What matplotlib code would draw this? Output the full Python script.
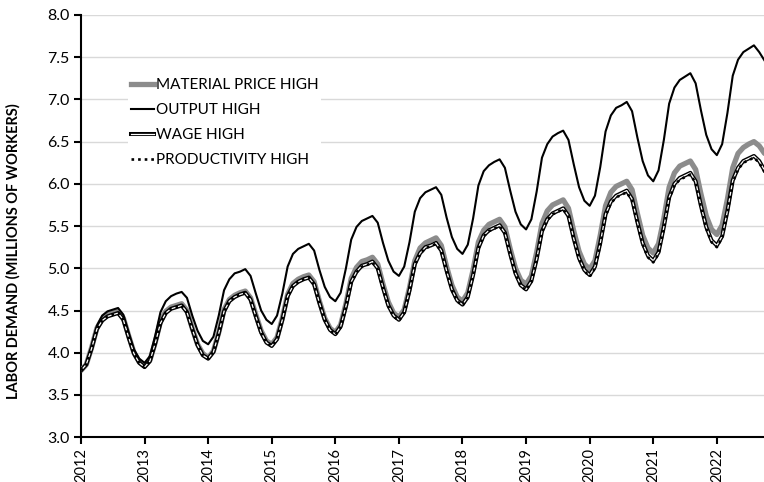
import matplotlib.pyplot as plt
import matplotlib.patheffects as pe
from matplotlib.lines import Line2D
import numpy as np

# monthly labor demand, Jan 2012 - Oct 2022 (millions of workers)
years = ['2012', '2013', '2014', '2015', '2016', '2017',
         '2018', '2019', '2020', '2021', '2022']

material_high = [
    3.79, 3.86, 4.06, 4.29, 4.40, 4.45, 4.47, 4.49, 4.41, 4.20, 4.00, 3.89,
    3.84, 3.91, 4.12, 4.37, 4.49, 4.54, 4.56, 4.58, 4.50, 4.29, 4.10, 3.99,
    3.94, 4.02, 4.24, 4.51, 4.63, 4.68, 4.71, 4.73, 4.65, 4.45, 4.26, 4.14,
    4.10, 4.18, 4.41, 4.69, 4.82, 4.87, 4.90, 4.92, 4.84, 4.61, 4.41, 4.29,
    4.24, 4.33, 4.58, 4.88, 5.01, 5.08, 5.10, 5.13, 5.05, 4.81, 4.60, 4.47,
    4.42, 4.51, 4.77, 5.09, 5.24, 5.30, 5.33, 5.36, 5.27, 5.02, 4.80, 4.66,
    4.61, 4.71, 4.98, 5.31, 5.45, 5.52, 5.55, 5.58, 5.49, 5.23, 5.00, 4.86,
    4.81, 4.91, 5.19, 5.53, 5.68, 5.75, 5.78, 5.81, 5.71, 5.44, 5.20, 5.05,
    4.99, 5.09, 5.39, 5.74, 5.90, 5.97, 6.00, 6.03, 5.93, 5.65, 5.39, 5.24,
    5.18, 5.29, 5.59, 5.96, 6.13, 6.21, 6.24, 6.27, 6.17, 5.88, 5.62, 5.46,
    5.40, 5.51, 5.82, 6.19, 6.36, 6.43, 6.47, 6.50, 6.45, 6.36,
]

output_high = [
    3.79, 3.86, 4.07, 4.32, 4.44, 4.49, 4.51, 4.53, 4.45, 4.24, 4.04, 3.93,
    3.88, 3.96, 4.20, 4.48, 4.61, 4.67, 4.70, 4.72, 4.65, 4.44, 4.26, 4.14,
    4.10, 4.19, 4.44, 4.74, 4.87, 4.94, 4.96, 4.99, 4.91, 4.70, 4.50, 4.39,
    4.34, 4.44, 4.70, 5.02, 5.17, 5.23, 5.26, 5.29, 5.21, 4.98, 4.78, 4.66,
    4.61, 4.71, 5.00, 5.34, 5.49, 5.56, 5.59, 5.62, 5.54, 5.30, 5.09, 4.96,
    4.91, 5.02, 5.31, 5.67, 5.83, 5.90, 5.93, 5.96, 5.87, 5.60, 5.37, 5.23,
    5.17, 5.28, 5.59, 5.98, 6.15, 6.22, 6.26, 6.29, 6.19, 5.92, 5.67, 5.52,
    5.46, 5.58, 5.91, 6.31, 6.47, 6.56, 6.60, 6.63, 6.52, 6.23, 5.96, 5.80,
    5.74, 5.86, 6.20, 6.62, 6.81, 6.90, 6.93, 6.97, 6.86, 6.55, 6.27, 6.10,
    6.03, 6.16, 6.52, 6.95, 7.14, 7.23, 7.27, 7.31, 7.19, 6.87, 6.58, 6.41,
    6.34, 6.47, 6.84, 7.28, 7.47, 7.56, 7.60, 7.64, 7.56, 7.46,
]

wage_high = [
    3.79, 3.86, 4.05, 4.28, 4.38, 4.43, 4.45, 4.47, 4.39, 4.18, 3.99, 3.88,
    3.83, 3.90, 4.11, 4.35, 4.47, 4.52, 4.54, 4.56, 4.48, 4.28, 4.09, 3.97,
    3.93, 4.01, 4.23, 4.49, 4.61, 4.66, 4.69, 4.71, 4.63, 4.43, 4.24, 4.12,
    4.08, 4.16, 4.39, 4.67, 4.79, 4.84, 4.87, 4.89, 4.81, 4.59, 4.39, 4.27,
    4.22, 4.31, 4.55, 4.84, 4.96, 5.03, 5.05, 5.08, 5.00, 4.77, 4.56, 4.44,
    4.39, 4.48, 4.74, 5.05, 5.18, 5.25, 5.27, 5.30, 5.21, 4.97, 4.75, 4.62,
    4.57, 4.66, 4.92, 5.24, 5.39, 5.45, 5.48, 5.51, 5.42, 5.17, 4.94, 4.80,
    4.75, 4.85, 5.11, 5.44, 5.58, 5.65, 5.68, 5.71, 5.62, 5.35, 5.12, 4.98,
    4.92, 5.02, 5.30, 5.64, 5.79, 5.86, 5.89, 5.92, 5.82, 5.55, 5.30, 5.15,
    5.09, 5.19, 5.49, 5.84, 6.00, 6.07, 6.10, 6.13, 6.03, 5.74, 5.49, 5.33,
    5.27, 5.38, 5.68, 6.04, 6.19, 6.27, 6.30, 6.33, 6.27, 6.16,
]

productivity_high = [
    3.79, 3.86, 4.05, 4.28, 4.38, 4.43, 4.45, 4.47, 4.39, 4.18, 3.99, 3.88,
    3.83, 3.90, 4.11, 4.35, 4.47, 4.52, 4.54, 4.56, 4.48, 4.28, 4.09, 3.97,
    3.93, 4.01, 4.23, 4.49, 4.61, 4.66, 4.69, 4.71, 4.63, 4.43, 4.24, 4.12,
    4.08, 4.16, 4.39, 4.67, 4.79, 4.84, 4.87, 4.89, 4.81, 4.59, 4.39, 4.27,
    4.21, 4.30, 4.54, 4.83, 4.95, 5.02, 5.04, 5.07, 4.99, 4.76, 4.55, 4.43,
    4.38, 4.47, 4.73, 5.04, 5.17, 5.24, 5.26, 5.29, 5.20, 4.96, 4.74, 4.61,
    4.56, 4.65, 4.91, 5.23, 5.38, 5.44, 5.47, 5.50, 5.41, 5.16, 4.93, 4.79,
    4.74, 4.84, 5.10, 5.43, 5.57, 5.64, 5.67, 5.70, 5.61, 5.34, 5.11, 4.97,
    4.90, 5.00, 5.28, 5.62, 5.77, 5.84, 5.87, 5.90, 5.80, 5.53, 5.28, 5.13,
    5.07, 5.17, 5.47, 5.82, 5.98, 6.05, 6.08, 6.11, 6.01, 5.72, 5.47, 5.31,
    5.25, 5.36, 5.66, 6.02, 6.17, 6.25, 6.28, 6.31, 6.25, 6.14,
]

plt.rcParams['font.family'] = ['Lato', 'DejaVu Sans']

fig = plt.figure(figsize=(7.64, 4.82), dpi=100)
ax = fig.add_axes([0.106, 0.093, 0.894, 0.876])

x = np.arange(len(output_high))

# wage line: white core with a black outline
wage_fx = [pe.Stroke(linewidth=2.9, foreground='black'), pe.Normal()]
dots = (0, (1, 1.5))

ax.plot(x, material_high, color='#8c8c8c', lw=3.8, solid_capstyle='round', zorder=3)
ax.plot(x, output_high, color='black', lw=1.5, zorder=4)
ax.plot(x, wage_high, color='white', lw=0.9, path_effects=wage_fx, zorder=5)
ax.plot(x, productivity_high, color='black', lw=1.9, linestyle=dots, zorder=6)

ax.set_ylim(3.0, 8.0)
ax.set_xlim(0, 128.9)
yt = np.arange(3.0, 8.01, 0.5)
ax.set_yticks(yt)
ax.set_yticklabels(['%.1f' % v for v in yt], fontsize=11.5)
ax.set_xticks(np.arange(len(years)) * 12)
ax.set_xticklabels(years, rotation=90, fontsize=10.5)

ax.yaxis.grid(True, color='#d9d9d9', lw=1)
ax.set_axisbelow(True)
for s in ['top', 'right']:
    ax.spines[s].set_visible(False)
for s in ['left', 'bottom']:
    ax.spines[s].set_linewidth(1.5)
ax.tick_params(axis='both', direction='out', length=5, width=1.5, colors='black', pad=3)

ax.set_ylabel('LABOR DEMAND (MILLIONS OF WORKERS)', fontsize=10.5, fontweight='bold')
ax.yaxis.set_label_coords(-0.088, 0.44)

h_mat = Line2D([], [], color='#8c8c8c', lw=3.8)
h_out = Line2D([], [], color='black', lw=1.5)
h_wage = Line2D([], [], color='white', lw=0.9, path_effects=wage_fx)
h_prod = Line2D([], [], color='black', lw=1.9, linestyle=dots)
leg = ax.legend([h_mat, h_out, h_wage, h_prod],
                ['MATERIAL PRICE HIGH', 'OUTPUT HIGH', 'WAGE HIGH', 'PRODUCTIVITY HIGH'],
                loc='upper left', bbox_to_anchor=(0.058, 0.875), fontsize=11,
                frameon=True, facecolor='white', edgecolor='none', framealpha=1,
                handlelength=1.5, handletextpad=0.1, labelspacing=0.72,
                borderpad=0.2)
leg.get_frame().set_boxstyle('square', pad=0)

fig.savefig('out.png', dpi=100)
